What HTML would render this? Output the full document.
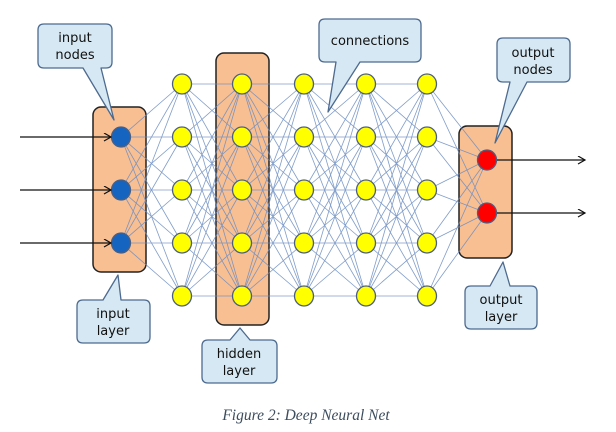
<!DOCTYPE html>
<html><head><meta charset="utf-8"><style>
html,body{margin:0;padding:0;background:#fff;width:616px;height:432px;overflow:hidden}
svg text{font-family:"Comic Sans MS","DejaVu Sans",sans-serif;font-size:13px;fill:#111}
</style></head><body>
<svg id="s" width="616" height="432" xmlns="http://www.w3.org/2000/svg">
<defs><marker id="a" markerWidth="10" markerHeight="10" refX="8" refY="4" orient="auto" markerUnits="userSpaceOnUse"><path d="M1,0 L8,4 L1,8" fill="none" stroke="#111" stroke-width="1.2"/></marker></defs>
<rect x="93" y="107" width="53" height="165" rx="8" fill="#f8bf93" stroke="#222" stroke-width="1.5"/>
<rect x="216" y="53" width="53" height="272" rx="8" fill="#f8bf93" stroke="#222" stroke-width="1.5"/>
<rect x="459" y="126" width="53" height="132" rx="8" fill="#f8bf93" stroke="#222" stroke-width="1.5"/>
<g id="lines" stroke="#6b8cc0" stroke-width="0.8" opacity="0.85"></g>
<g id="nodes"></g>
<line x1="20" y1="137" x2="111" y2="137" stroke="#111" stroke-width="1.3" marker-end="url(#a)"/>
<line x1="20" y1="190" x2="111" y2="190" stroke="#111" stroke-width="1.3" marker-end="url(#a)"/>
<line x1="20" y1="243" x2="111" y2="243" stroke="#111" stroke-width="1.3" marker-end="url(#a)"/>
<line x1="497" y1="160" x2="585" y2="160" stroke="#111" stroke-width="1.3" marker-end="url(#a)"/>
<line x1="497" y1="213" x2="585" y2="213" stroke="#111" stroke-width="1.3" marker-end="url(#a)"/>
<g fill="#d6e8f3" stroke="#4d6a8f" stroke-width="1.3" stroke-linejoin="round">
<path d="M46,24 H106 Q112,24 112,30 V62 Q112,68 106,68 H101 L114,120 L83,68 H44 Q38,68 38,62 V30 Q38,24 44,24 Z"/>
<path d="M325,19 H415 Q421,19 421,25 V56 Q421,62 415,62 H360 L328,112 L336,62 H325 Q319,62 319,56 V25 Q319,19 325,19 Z"/>
<path d="M503,38 H564 Q570,38 570,44 V76 Q570,82 564,82 H527 L495,143 L510,82 H503 Q497,82 497,76 V44 Q497,38 503,38 Z"/>
<path d="M83,300 H103 L118,275 L121,300 H144 Q150,300 150,306 V337 Q150,343 144,343 H83 Q77,343 77,337 V306 Q77,300 83,300 Z"/>
<path d="M208,340 H230 L240,328 L250,340 H271 Q277,340 277,346 V377 Q277,383 271,383 H208 Q202,383 202,377 V346 Q202,340 208,340 Z"/>
<path d="M471,286 H490 L503,262 L510,286 H531 Q537,286 537,292 V323 Q537,329 531,329 H471 Q465,329 465,323 V292 Q465,286 471,286 Z"/>
</g>
<text x="75" y="42" text-anchor="middle">input</text><text x="75" y="59" text-anchor="middle">nodes</text>
<text x="370" y="45" text-anchor="middle">connections</text>
<text x="533" y="57" text-anchor="middle">output</text><text x="533" y="74" text-anchor="middle">nodes</text>
<text x="113" y="318" text-anchor="middle">input</text><text x="113" y="335" text-anchor="middle">layer</text>
<text x="239" y="358" text-anchor="middle">hidden</text><text x="239" y="375" text-anchor="middle">layer</text>
<text x="501" y="304" text-anchor="middle">output</text><text x="501" y="321" text-anchor="middle">layer</text>
<text x="306" y="420" text-anchor="middle" style="font-family:'Liberation Serif',serif;font-style:italic;font-size:15.5px;fill:#3d4d5e">Figure 2: Deep Neural Net</text>
</svg>
<script>
var NS="http://www.w3.org/2000/svg";
var H=[84,137,190,243,296];
var cols=[{x:121,y:[137,190,243],c:"#1565c0"}];
[182,242,304,366,427].forEach(function(x){cols.push({x:x,y:H,c:"#ffff00"});});
cols.push({x:487,y:[160,213],c:"#ff0000"});
var L=document.getElementById("lines"),N=document.getElementById("nodes");
for(var i=0;i<cols.length-1;i++){var a=cols[i],b=cols[i+1];
a.y.forEach(function(y1){b.y.forEach(function(y2){var l=document.createElementNS(NS,"line");
l.setAttribute("x1",a.x);l.setAttribute("y1",y1);l.setAttribute("x2",b.x);l.setAttribute("y2",y2);L.appendChild(l);});});}
cols.forEach(function(c){c.y.forEach(function(y){var e=document.createElementNS(NS,"ellipse");
e.setAttribute("cx",c.x);e.setAttribute("cy",y);e.setAttribute("rx",9.5);e.setAttribute("ry",10);
e.setAttribute("fill",c.c);e.setAttribute("stroke","#4d5f80");e.setAttribute("stroke-width","1.3");N.appendChild(e);});});
</script>
</body></html>
